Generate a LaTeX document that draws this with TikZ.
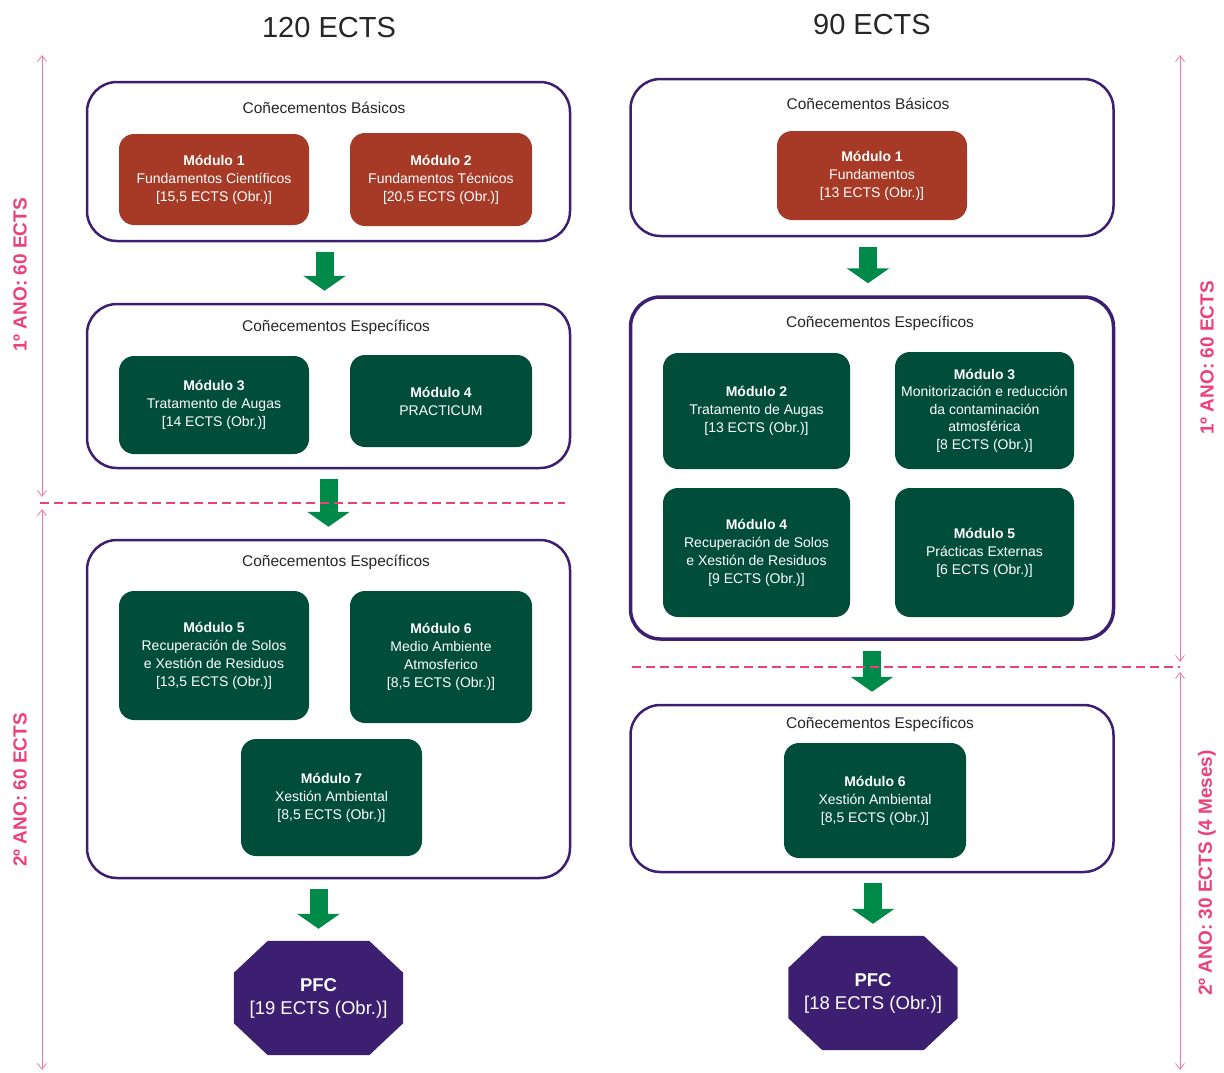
\documentclass[tikz,border=0pt]{standalone}
\usepackage{fontspec}
\setmainfont{Liberation Sans}
\usetikzlibrary{calc,arrows.meta,positioning,backgrounds}
\definecolor{boxpurple}{RGB}{60,31,112}
\definecolor{modred}{RGB}{166,58,38}
\definecolor{modgreen}{RGB}{0,77,58}
\definecolor{flowgreen}{RGB}{0,138,74}
\definecolor{yearpink}{RGB}{236,64,122}
\definecolor{linepink}{RGB}{240,120,160}

\begin{document}
\begin{tikzpicture}[x=1pt, y=-1pt]

\tikzset{
outer/.style={draw=boxpurple, line width=2.5pt, rounded corners=30pt, minimum width=483pt, inner sep=0pt},
basicmod/.style={fill=modred, rounded corners=15pt, text=white, align=center, inner sep=0pt, font=\fontsize{14}{18}\selectfont},
specmod/.style={basicmod, fill=modgreen},
pfc/.style={text=white, align=center, inner sep=0pt, minimum width=169pt, minimum height=114pt, font=\fontsize{18.5}{23}\selectfont},
flow/.style={-{Triangle[width=42pt,length=15pt]}, line width=18pt, draw=flowgreen, shorten <=10pt, shorten >=12pt},
boxtitle/.style={text=black!85, font=\fontsize{15.5}{18}\selectfont},
bigtitle/.style={text=black!85, font=\fontsize{29}{32}\selectfont},
yearline/.style={{Straight Barb[width=9pt,length=6pt]}-{Straight Barb[width=9pt,length=6pt]}, draw=linepink, line width=0.8pt},
yearsep/.style={dash pattern=on 9pt off 5pt, draw=yearpink, line width=1.2pt},
yearlab/.style={rotate=90, text=yearpink, font=\fontsize{19}{22}\selectfont\bfseries}
}

\useasboundingbox (0,0) rectangle (1224,1072);

% Nodes
\node[bigtitle] (title120) at (329,28) {120 ECTS};
\node[bigtitle] (title90) at (872,25) {90 ECTS};

\node[outer, minimum height=159pt] (basic120) at (328.5,161.5) {};
\node[outer, minimum height=164pt] (spec120a) at (328.5,386) {};
\node[outer, minimum height=338pt] (spec120b) at (328.5,709) {};

\node[outer, minimum height=157pt] (basic90) at (872,157.5) {};
\node[outer, minimum height=342pt, line width=3.5pt] (spec90a) at (872,468) {};
\node[outer, minimum height=167pt] (spec90b) at (872,788.5) {};

\node[boxtitle] (lab1l) at ($(basic120.north) + (-4.5,27.5)$) {Coñecementos Básicos};
\node[boxtitle] (lab2l) at ($(spec120a.north) + (7.5,25)$) {Coñecementos Específicos};
\node[boxtitle] (lab3l) at ($(spec120b.north) + (7.5,24)$) {Coñecementos Específicos};
\node[boxtitle] (lab1r) at ($(basic90.north) + (-4,26)$) {Coñecementos Básicos};
\node[boxtitle] (lab2r) at ($(spec90a.north) + (8,28)$) {Coñecementos Específicos};
\node[boxtitle] (lab3r) at ($(spec90b.north) + (8,21)$) {Coñecementos Específicos};

% Modules (120 ECTS)
\node[basicmod, minimum width=190pt, minimum height=91pt] (m1l) at (214,179.5)
  {\textbf{Módulo 1}\\Fundamentos Científicos\\{[15,5 ECTS (Obr.)]}};
\node[basicmod, minimum width=182pt, minimum height=93pt] (m2l) at (441,179.5)
  {\textbf{Módulo 2}\\Fundamentos Técnicos\\{[20,5 ECTS (Obr.)]}};
\node[specmod, minimum width=190pt, minimum height=98pt] (m3l) at (214,405)
  {\textbf{Módulo 3}\\Tratamento de Augas\\{[14 ECTS (Obr.)]}};
\node[specmod, minimum width=182pt, minimum height=92pt] (m4l) at (441,401)
  {\textbf{Módulo 4}\\PRACTICUM};
\node[specmod, minimum width=190pt, minimum height=129pt] (m5l) at (214,655.5)
  {\textbf{Módulo 5}\\Recuperación de Solos\\e Xestión de Residuos\\{[13,5 ECTS (Obr.)]}};
\node[specmod, minimum width=182pt, minimum height=132pt] (m6l) at (441,657)
  {\textbf{Módulo 6}\\Medio Ambiente\\Atmosferico\\{[8,5 ECTS (Obr.)]}};
\node[specmod, minimum width=181pt, minimum height=117pt] (m7l) at (331.5,797.5)
  {\textbf{Módulo 7}\\Xestión Ambiental\\{[8,5 ECTS (Obr.)]}};
\node[pfc] (pfcl) at (318.5,998) {\textbf{PFC}\\{[19 ECTS (Obr.)]}};

% Modules (90 ECTS)
\node[basicmod, minimum width=190pt, minimum height=89pt] (m1r) at (872,175.5)
  {\textbf{Módulo 1}\\Fundamentos\\{[13 ECTS (Obr.)]}};
\node[specmod, minimum width=187pt, minimum height=116pt] (m2r) at (756.5,411)
  {\textbf{Módulo 2}\\Tratamento de Augas\\{[13 ECTS (Obr.)]}};
\node[specmod, minimum width=179pt, minimum height=117pt, font=\fontsize{14}{17.5}\selectfont] (m3r) at (984.5,410.5)
  {\textbf{Módulo 3}\\Monitorización e reducción\\da contaminación\\atmosférica\\{[8 ECTS (Obr.)]}};
\node[specmod, minimum width=187pt, minimum height=129pt] (m4r) at (756.5,552.5)
  {\textbf{Módulo 4}\\Recuperación de Solos\\e Xestión de Residuos\\{[9 ECTS (Obr.)]}};
\node[specmod, minimum width=179pt, minimum height=129pt] (m5r) at (984.5,552.5)
  {\textbf{Módulo 5}\\Prácticas Externas\\{[6 ECTS (Obr.)]}};
\node[specmod, minimum width=182pt, minimum height=115pt] (m6r) at (875,800.5)
  {\textbf{Módulo 6}\\Xestión Ambiental\\{[8,5 ECTS (Obr.)]}};
\node[pfc] (pfcr) at (873,993) {\textbf{PFC}\\{[18 ECTS (Obr.)]}};

% PFC octagons
\begin{scope}[on background layer]
\foreach \p in {pfcl,pfcr}
  \fill[boxpurple] ($(\p.north west)+(34,0)$) -- ($(\p.north east)+(-34,0)$)
    -- ($(\p.north east)+(0,32)$) -- ($(\p.south east)+(0,-32)$)
    -- ($(\p.south east)+(-34,0)$) -- ($(\p.south west)+(34,0)$)
    -- ($(\p.south west)+(0,-32)$) -- ($(\p.north west)+(0,32)$) -- cycle;
\end{scope}

% Arrows
\draw[flow] ([xshift=-4pt]basic120.south) -- ([xshift=-4pt]spec120a.north);
\draw[flow] (spec120a) -- (spec120b);
\draw[flow] (spec120b.south -| pfcl.north) -- (pfcl.north);

\draw[flow] ([xshift=-4pt]basic90.south) -- ([xshift=-4pt]spec90a.north);
\draw[flow] (spec90a) -- (spec90b);
\draw[flow] (spec90b.south -| pfcr.north) -- (pfcr.north);

% Years
\coordinate (yt1l) at (42,55);
\coordinate (yb1l) at (42,497);
\coordinate (yt2l) at (42,509);
\coordinate (yb2l) at (42,1070);
\coordinate (yt1r) at (1180,55);
\coordinate (yb1r) at (1180,662);
\coordinate (yt2r) at (1180,672);
\coordinate (yb2r) at (1180,1070);

\draw[yearline] (yt1l) -- (yb1l);
\draw[yearline] (yt2l) -- (yb2l);
\draw[yearline] (yt1r) -- (yb1r);
\draw[yearline] (yt2r) -- (yb2r);

\coordinate (sepl1) at (40,503);
\coordinate (sepl2) at (565,503);
\coordinate (sepr1) at (632,667);
\coordinate (sepr2) at (1180,667);
\draw[yearsep] (sepl1) -- (sepl2);
\draw[yearsep] (sepr1) -- (sepr2);

% Labels
\node[yearlab] (year1l) at (20,275) {1º ANO: 60 ECTS};
\node[yearlab] (year2l) at (20,790) {2º ANO: 60 ECTS};
\node[yearlab] (year1r) at (1207,358) {1º ANO: 60 ECTS};
\node[yearlab] (year2r) at (1207,873) {2º ANO: 30 ECTS (4 Meses)};

\end{tikzpicture}
\end{document}
